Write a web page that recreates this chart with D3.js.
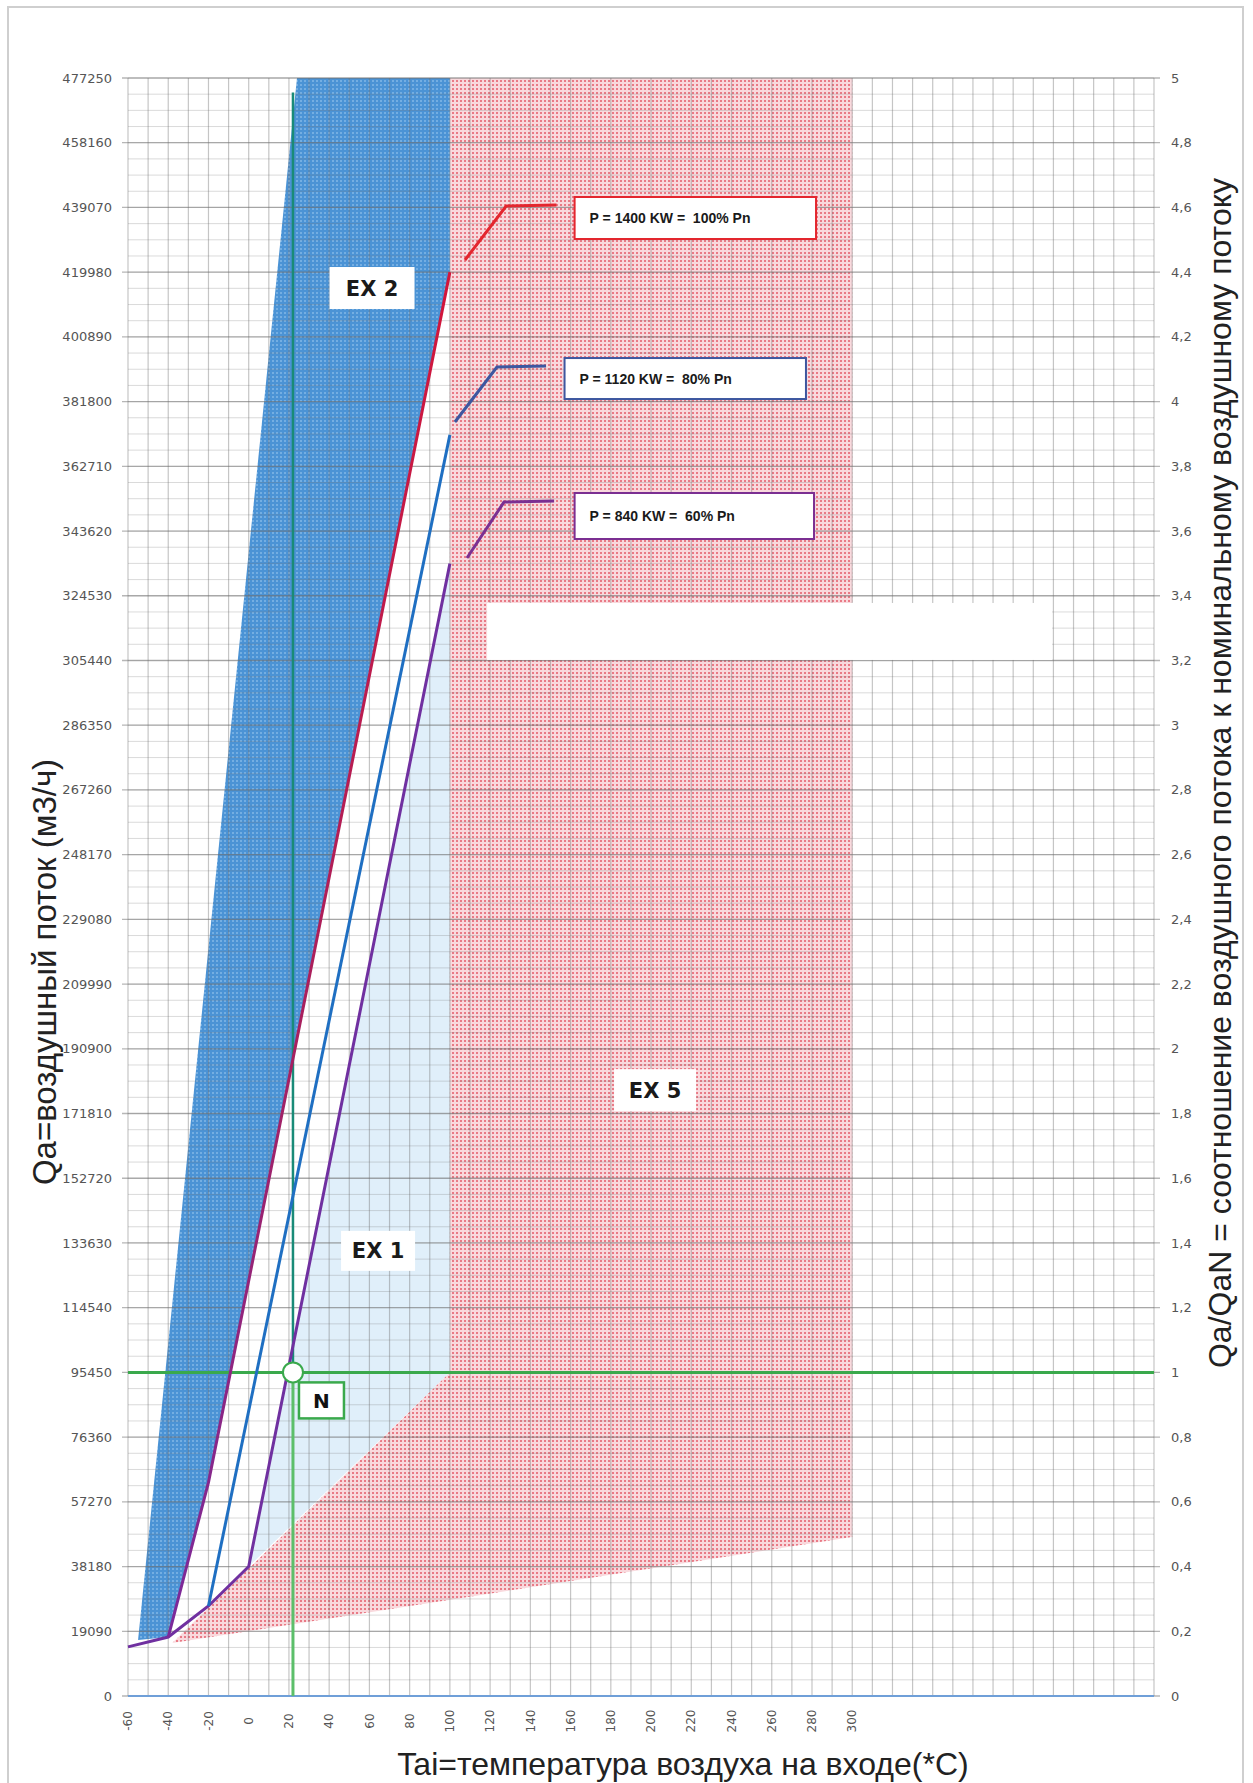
<!DOCTYPE html>
<html>
<head>
<meta charset="utf-8">
<script src="https://cdn.jsdelivr.net/npm/d3@7"></script>
<style>
  body { margin: 0; background: #fff; }
  svg { display: block; }
</style>
</head>
<body>
<script>
// chart size
var width = 1253;
var height = 1783;

// axis ticks
var tempTicks = [-60, -40, -20, 0, 20, 40, 60, 80, 100, 120, 140, 160, 180, 200, 220, 240, 260, 280, 300];
var flowTicks = [0, 19090, 38180, 57270, 76360, 95450, 114540, 133630, 152720, 171810, 190900, 209990,
                 229080, 248170, 267260, 286350, 305440, 324530, 343620, 362710, 381800, 400890,
                 419980, 439070, 458160, 477250];
var ratioTicks = [0, 0.2, 0.4, 0.6, 0.8, 1, 1.2, 1.4, 1.6, 1.8, 2, 2.2, 2.4, 2.6, 2.8, 3,
                  3.2, 3.4, 3.6, 3.8, 4, 4.2, 4.4, 4.6, 4.8, 5];

// power curves (temperature, air flow)
var temp100 = [-40, -20, 100];
var flow100 = [17400, 63000, 420000];
var temp80 = [-20, 100];
var flow80 = [26550, 372000];
var temp60 = [-60, -40, -20, 0, 100];
var flow60 = [14500, 17400, 26550, 38180, 334000];

// zones
var ex2Temp = [-55, 24, 100, 100, -20, -40];
var ex2Flow = [16500, 477250, 477250, 420000, 63000, 17400];
var ex5Temp = [-38, 100, 100, 300, 300];
var ex5Flow = [15600, 95450, 477250, 477250, 46900];
var ex1Temp = [0, 100, 100];
var ex1Flow = [38180, 334000, 95450];

// nominal point
var nomTemp = 22;
var nomFlow = 95450;
var nomTop = 473000;

var legendTexts = ["P = 1400 KW =  100% Pn", "P = 1120 KW =  80% Pn", "P = 840 KW =  60% Pn"];
var zoneNames = ["EX 2", "EX 1", "EX 5"];

// scales
var x = d3.scaleLinear().domain([-60, 450]).range([128, 1154]);
var y = d3.scaleLinear().domain([0, 477250]).range([1696, 78]);
var yr = d3.scaleLinear().domain([0, 5]).range([1696, 78]);

var svg = d3.select("body").append("svg")
    .attr("width", width)
    .attr("height", height);

var defs = svg.append("defs");

// dotted fills like the excel pattern fill
var bp = defs.append("pattern").attr("id", "bluePat")
    .attr("width", 4).attr("height", 4).attr("patternUnits", "userSpaceOnUse");
bp.append("rect").attr("width", 4).attr("height", 4).attr("fill", "#4b93d5");
bp.append("rect").attr("width", 2).attr("height", 2).attr("fill", "#74aee2");

var pp = defs.append("pattern").attr("id", "pinkPat")
    .attr("width", 4).attr("height", 4).attr("patternUnits", "userSpaceOnUse");
pp.append("rect").attr("width", 4).attr("height", 4).attr("fill", "#f9d9dd");
pp.append("rect").attr("width", 2).attr("height", 2).attr("fill", "#e97a86");

var grad = defs.append("linearGradient").attr("id", "redGrad")
    .attr("gradientUnits", "userSpaceOnUse")
    .attr("x1", 0).attr("x2", 0)
    .attr("y1", y(17400)).attr("y2", y(420000));
grad.append("stop").attr("offset", 0).attr("stop-color", "#7a2a9c");
grad.append("stop").attr("offset", 0.45).attr("stop-color", "#a8205e");
grad.append("stop").attr("offset", 1).attr("stop-color", "#d3163a");

// outer frame
svg.append("rect")
    .attr("x", 8).attr("y", 7)
    .attr("width", 1235).attr("height", 1800)
    .attr("fill", "none")
    .attr("stroke", "#cfcfcf")
    .attr("stroke-width", 2);

var zone = d3.line()
    .x(function(d) { return x(d[0]); })
    .y(function(d) { return y(d[1]); });

function pts(xs, ys) {
    return xs.map(function(v, i) { return [v, ys[i]]; });
}

// zones
svg.append("path")
    .attr("d", zone(pts(ex1Temp, ex1Flow)) + "Z")
    .attr("fill", "#e0effa");

svg.append("path")
    .attr("d", zone(pts(ex5Temp, ex5Flow)) + "Z")
    .attr("fill", "url(#pinkPat)");

svg.append("path")
    .attr("d", zone(pts(ex2Temp, ex2Flow)) + "Z")
    .attr("fill", "url(#bluePat)");

// grid
var grid = svg.append("g");
var minor = d3.range(0, 477250 + 1, 19090 / 4);
grid.selectAll(".hmin")
    .data(minor)
    .enter()
    .append("line")
    .attr("x1", x(-60)).attr("x2", x(450))
    .attr("y1", function(d) { return y(d); })
    .attr("y2", function(d) { return y(d); })
    .attr("stroke", "#7a7a7a")
    .attr("stroke-opacity", 0.28);

grid.selectAll(".hmaj")
    .data(flowTicks)
    .enter()
    .append("line")
    .attr("x1", x(-60) - 6).attr("x2", x(450) + 6)
    .attr("y1", function(d) { return y(d); })
    .attr("y2", function(d) { return y(d); })
    .attr("stroke", "#6e6e6e")
    .attr("stroke-opacity", 0.5)
    .attr("stroke-width", 1.3);

grid.selectAll(".v")
    .data(d3.range(-60, 451, 10))
    .enter()
    .append("line")
    .attr("y1", y(0)).attr("y2", y(477250))
    .attr("x1", function(d) { return x(d); })
    .attr("x2", function(d) { return x(d); })
    .attr("stroke", "#6e6e6e")
    .attr("stroke-opacity", 0.4)
    .attr("stroke-width", 1.2);

// bottom axis line
svg.append("line")
    .attr("x1", x(-60)).attr("x2", x(450))
    .attr("y1", y(0)).attr("y2", y(0))
    .attr("stroke", "#6f9fd8")
    .attr("stroke-width", 2);

// blank white patch
svg.append("rect")
    .attr("x", x(118.5)).attr("y", y(322400))
    .attr("width", x(399.3) - x(118.5))
    .attr("height", y(305600) - y(322400))
    .attr("fill", "#fff");

// tick labels
svg.selectAll(".yl")
    .data(flowTicks)
    .enter()
    .append("text")
    .attr("x", 112)
    .attr("y", function(d) { return y(d); })
    .attr("dy", "0.35em")
    .attr("text-anchor", "end")
    .style("font", "13px 'DejaVu Sans'")
    .attr("fill", "#555")
    .text(function(d) { return d; });

svg.selectAll(".rl")
    .data(ratioTicks)
    .enter()
    .append("text")
    .attr("x", 1171)
    .attr("y", function(d) { return yr(d); })
    .attr("dy", "0.35em")
    .style("font", "13px 'DejaVu Sans'")
    .attr("fill", "#555")
    .text(function(d) { return String(d).replace(".", ","); });

svg.selectAll(".xl")
    .data(tempTicks)
    .enter()
    .append("text")
    .attr("transform", function(d) { return "translate(" + x(d) + ",1721) rotate(-90)"; })
    .attr("dy", "0.35em")
    .attr("text-anchor", "middle")
    .style("font", "12px 'DejaVu Sans'")
    .attr("fill", "#555")
    .text(function(d) { return d; });

// axis titles
svg.append("text")
    .attr("x", 683).attr("y", 1775)
    .attr("text-anchor", "middle")
    .style("font", "32px 'Liberation Sans'")
    .attr("fill", "#222")
    .text("Tai=температура воздуха на входе(*C)");

svg.append("text")
    .attr("transform", "translate(56,972) rotate(-90)")
    .attr("text-anchor", "middle")
    .style("font", "33px 'Liberation Sans'")
    .attr("fill", "#222")
    .text("Qa=воздушный поток (м3/ч)");

svg.append("text")
    .attr("transform", "translate(1231,773) rotate(-90)")
    .attr("text-anchor", "middle")
    .style("font", "32px 'Liberation Sans'")
    .attr("fill", "#222")
    .text("Qa/QaN = соотношение воздушного потока к номинальному воздушному потоку");

// zone labels
var zoneAt = [[61.3, 415300, 85, 42], [64.3, 131300, 74, 40], [202, 178700, 82, 42]];
zoneNames.forEach(function(name, i) {
    var p = zoneAt[i];
    svg.append("rect")
        .attr("x", x(p[0]) - p[2] / 2).attr("y", y(p[1]) - p[3] / 2)
        .attr("width", p[2]).attr("height", p[3])
        .attr("fill", "#fff");
    svg.append("text")
        .attr("x", x(p[0])).attr("y", y(p[1]))
        .attr("dy", "0.36em")
        .attr("text-anchor", "middle")
        .style("font", "bold 21px 'DejaVu Sans'")
        .attr("fill", "#1a1a1a")
        .text(name);
});

// green guide lines
svg.append("line")
    .attr("x1", x(-60)).attr("x2", x(450))
    .attr("y1", y(nomFlow)).attr("y2", y(nomFlow))
    .attr("stroke", "#3aa94c")
    .attr("stroke-width", 3);

svg.append("line")
    .attr("x1", x(nomTemp)).attr("x2", x(nomTemp))
    .attr("y1", y(0)).attr("y2", y(nomFlow))
    .attr("stroke", "#5cbf6a")
    .attr("stroke-width", 3);

svg.append("line")
    .attr("x1", x(nomTemp)).attr("x2", x(nomTemp))
    .attr("y1", y(nomFlow)).attr("y2", y(nomTop))
    .attr("stroke", "#198b78")
    .attr("stroke-width", 2.5);

// power curves
var curve = d3.line()
    .x(function(d) { return x(d[0]); })
    .y(function(d) { return y(d[1]); });

svg.append("path")
    .attr("d", curve(pts(temp60, flow60)))
    .attr("fill", "none")
    .attr("stroke", "#7030a0")
    .attr("stroke-width", 3);

svg.append("path")
    .attr("d", curve(pts(temp80, flow80)))
    .attr("fill", "none")
    .attr("stroke", "#1f6fc2")
    .attr("stroke-width", 3);

svg.append("path")
    .attr("d", curve(pts(temp100, flow100)))
    .attr("fill", "none")
    .attr("stroke", "url(#redGrad)")
    .attr("stroke-width", 3);

// nominal point N
svg.append("circle")
    .attr("cx", x(nomTemp)).attr("cy", y(nomFlow))
    .attr("r", 10)
    .attr("fill", "#fff")
    .attr("stroke", "#3aa94c")
    .attr("stroke-width", 2);

svg.append("rect")
    .attr("x", x(nomTemp) + 6).attr("y", y(nomFlow) + 10)
    .attr("width", 45).attr("height", 36)
    .attr("fill", "#fff")
    .attr("stroke", "#3aa94c")
    .attr("stroke-width", 2.5);

svg.append("text")
    .attr("x", x(nomTemp) + 28.5).attr("y", y(nomFlow) + 28)
    .attr("dy", "0.36em")
    .attr("text-anchor", "middle")
    .style("font", "bold 20px 'DejaVu Sans'")
    .attr("fill", "#111")
    .text("N");

// legend boxes with leaders
var legendColors = ["#e3262e", "#3d57a0", "#7b2f92"];
var legendBoxes = [[162, 282, 442150, 429760], [157, 277, 394650, 382560], [162, 281, 354840, 341270]];
var legendLeaders = [
    [[107.5, 423560], [128, 439490], [153, 439780]],
    [[102.5, 375780], [123.4, 392000], [147.8, 392300]],
    [[108.5, 335660], [126.9, 352170], [151.8, 352470]]
];

legendTexts.forEach(function(t, i) {
    var b = legendBoxes[i];
    svg.append("path")
        .attr("d", curve(legendLeaders[i]))
        .attr("fill", "none")
        .attr("stroke", legendColors[i])
        .attr("stroke-width", 3);
    svg.append("rect")
        .attr("x", x(b[0])).attr("y", y(b[2]))
        .attr("width", x(b[1]) - x(b[0]))
        .attr("height", y(b[3]) - y(b[2]))
        .attr("fill", "#fff")
        .attr("stroke", legendColors[i])
        .attr("stroke-width", 2);
    svg.append("text")
        .attr("x", x(b[0]) + 15)
        .attr("y", (y(b[2]) + y(b[3])) / 2)
        .attr("dy", "0.36em")
        .style("font", "bold 14px 'Liberation Sans'")
        .style("white-space", "pre")
        .attr("fill", "#1a1a1a")
        .text(t);
});
</script>
</body>
</html>
